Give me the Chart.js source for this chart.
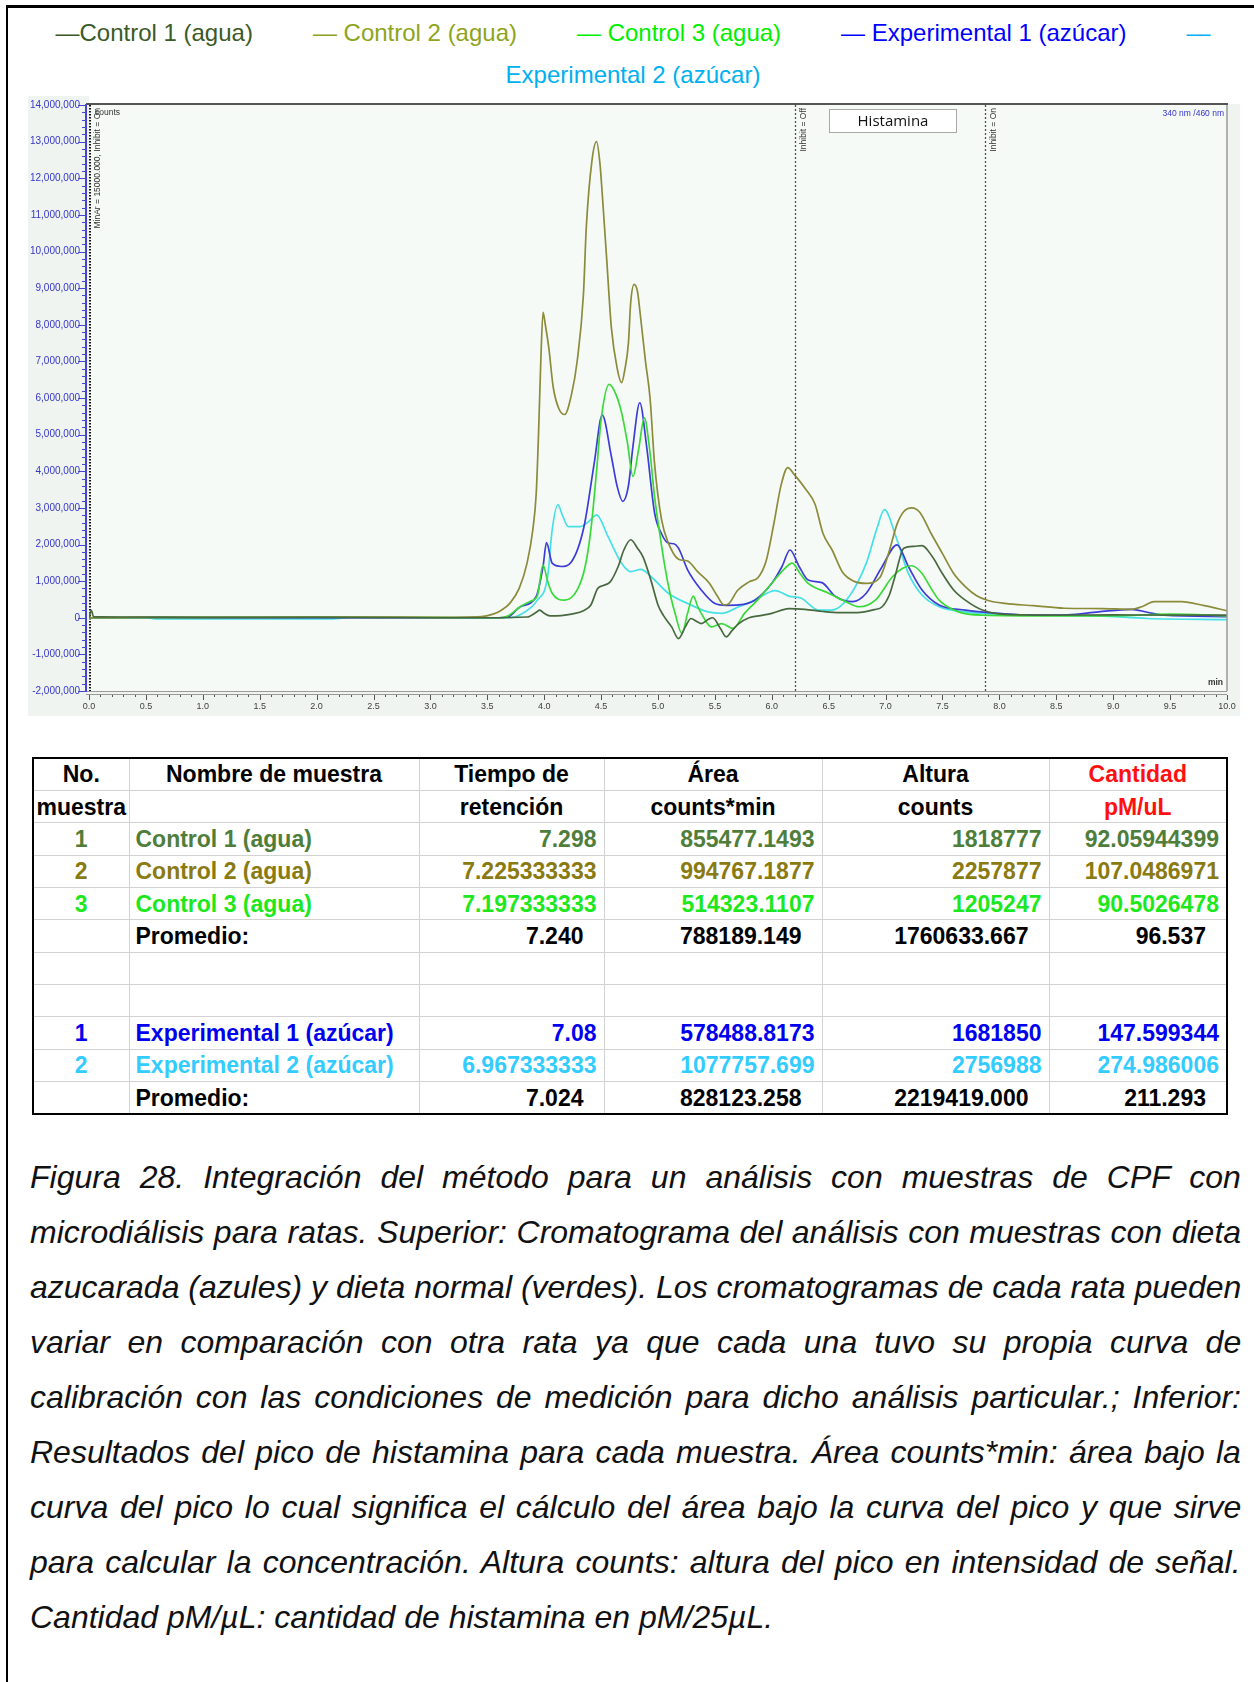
<!DOCTYPE html>
<html lang="es">
<head>
<meta charset="utf-8">
<title>Figura 28 - Cromatograma de histamina</title>
<script src="https://cdn.jsdelivr.net/npm/chart.js@4.4.1/dist/chart.umd.min.js"></script>
<style>
  html, body { margin: 0; padding: 0; background: #fff; }
  body { position: relative; width: 1254px; height: 1682px; overflow: hidden;
         font-family: "Liberation Sans", Arial, sans-serif; color: #000; }
  #marco { position: absolute; left: 6px; top: 5px; width: 1300px; height: 1700px;
           border-top: 3px solid #000; border-left: 2px solid #000; }
  .leyenda { position: absolute; left: 0; width: 1266px; height: 28px; text-align: center; white-space: nowrap;
             font-size: 24px; line-height: 28px; }
  .leyenda span + span { margin-left: 60px; }
  #grafico { position: absolute; left: 28px; top: 96px; }
  #tabla { position: absolute; left: 32px; top: 757px; width: 1194px;
           border-collapse: collapse; table-layout: fixed;
           border: 2px solid #000; font-weight: bold; font-size: 23px; }
  #tabla tr { height: 32.36px; }
  #tabla td { height: 32.36px; padding: 0 7px; border: 1.5px solid #d2d2d2; white-space: nowrap; overflow: hidden;
              line-height: 26px; box-sizing: border-box; }
  #tabla td.c { text-align: center; }
  #tabla td.n { text-align: right; }
  #tabla td.nombre { padding-left: 6px; }
  #tabla tr.prom td.n { padding-right: 20px; }
  #pie { position: absolute; left: 30px; top: 1149.5px; width: 1211px;
         font-style: italic; font-size: 32px; line-height: 55.1px; color: #111; }
  #pie div { white-space: nowrap; }
</style>
</head>
<body>
<div id="marco"></div>
<div class="leyenda" id="leyenda1" style="top:19px"></div>
<div class="leyenda" id="leyenda2" style="top:61px"></div>
<canvas id="grafico" width="1212" height="620"></canvas>
<table id="tabla"></table>
<div id="pie"></div>

<script>
// series del cromatograma: [tiempo (min), señal (millones de counts)]
const seriesNames = ["Control 1 (agua)", "Control 2 (agua)", "Control 3 (agua)", "Experimental 1 (azúcar)", "Experimental 2 (azúcar)"];
const lineColors = ["#48693f", "#8b8b3a", "#3ad93a", "#3d3dd6", "#46e0e6"];
const legendColors = ["#3b5a28", "#8ea41c", "#00ee00", "#0000ff", "#00b0f0"];

const control1 = [[0,0],[0.02,0.2],[0.04,0.03],[0.3,0.02],[1.0,0.01],[2.0,0.01],[3.0,0],[3.5,0],[3.85,0.02],[3.93,0.15],[3.96,0.21],[4.0,0.12],[4.05,0.05],[4.15,0.06],[4.24,0.1],[4.35,0.2],[4.41,0.35],[4.47,0.8],[4.52,0.88],[4.58,0.98],[4.65,1.4],[4.7,1.85],[4.76,2.13],[4.82,1.9],[4.87,1.65],[4.94,1.0],[5.0,0.35],[5.05,0.05],[5.12,-0.25],[5.18,-0.57],[5.24,-0.25],[5.29,-0.02],[5.34,-0.1],[5.38,-0.16],[5.44,-0.05],[5.48,0],[5.55,-0.3],[5.6,-0.52],[5.65,-0.35],[5.71,-0.16],[5.8,0],[5.9,0.06],[6.0,0.12],[6.15,0.25],[6.29,0.23],[6.45,0.17],[6.6,0.14],[6.75,0.14],[6.9,0.22],[6.97,0.3],[7.03,0.6],[7.08,1.1],[7.16,1.9],[7.25,1.95],[7.32,1.97],[7.41,1.67],[7.5,1.2],[7.6,0.75],[7.7,0.48],[7.85,0.21],[8.05,0.09],[8.5,0.07],[9.0,0.08],[9.5,0.07],[10.0,0.07]];

const control2 = [[0,0],[0.5,0.01],[1.5,0.01],[2.5,0.02],[3.0,0.01],[3.45,0.03],[3.55,0.1],[3.62,0.2],[3.7,0.4],[3.78,0.8],[3.85,1.5],[3.9,2.4],[3.93,3.4],[3.95,5.0],[3.97,7.0],[3.99,8.34],[4.01,8.0],[4.04,7.38],[4.08,6.28],[4.13,5.7],[4.18,5.55],[4.24,6.1],[4.29,7.01],[4.345,8.84],[4.37,10.67],[4.42,12.49],[4.46,13.0],[4.49,12.4],[4.51,11.58],[4.55,9.75],[4.59,7.93],[4.64,6.83],[4.68,6.42],[4.71,6.8],[4.74,7.5],[4.76,8.6],[4.79,9.1],[4.82,8.9],[4.84,8.4],[4.89,7.0],[4.93,6.0],[4.97,4.2],[5.03,2.7],[5.09,2.05],[5.18,1.6],[5.26,1.55],[5.35,1.25],[5.45,0.95],[5.52,0.6],[5.58,0.35],[5.62,0.38],[5.7,0.75],[5.8,0.98],[5.88,1.1],[5.95,1.55],[6.02,2.6],[6.08,3.6],[6.14,4.1],[6.2,3.9],[6.3,3.5],[6.38,3.1],[6.45,2.3],[6.53,1.85],[6.62,1.25],[6.72,1.0],[6.83,0.94],[6.95,1.1],[7.03,1.8],[7.1,2.55],[7.16,2.9],[7.23,3.0],[7.3,2.88],[7.4,2.3],[7.5,1.75],[7.6,1.2],[7.7,0.85],[7.8,0.6],[7.9,0.47],[8.05,0.39],[8.3,0.33],[8.57,0.26],[8.9,0.25],[9.16,0.23],[9.25,0.3],[9.36,0.44],[9.6,0.44],[9.8,0.33],[10.0,0.19]];

const control3 = [[0,0],[1.0,0.01],[2.2,0.02],[3.0,0.01],[3.6,0],[3.68,0.05],[3.79,0.3],[3.88,0.45],[3.94,0.6],[3.99,1.44],[4.03,1.0],[4.07,0.67],[4.18,0.48],[4.29,0.76],[4.36,1.4],[4.41,2.4],[4.46,4.0],[4.5,5.4],[4.57,6.37],[4.63,6.1],[4.68,5.6],[4.73,4.8],[4.78,3.86],[4.83,4.6],[4.88,5.46],[4.93,4.5],[4.97,3.3],[5.02,2.2],[5.06,1.4],[5.11,0.6],[5.15,0.12],[5.21,-0.43],[5.26,0.12],[5.31,0.59],[5.35,0.3],[5.38,0.12],[5.47,-0.25],[5.56,-0.16],[5.66,-0.29],[5.76,0.12],[5.88,0.5],[6.0,0.94],[6.1,1.3],[6.18,1.49],[6.25,1.2],[6.32,0.94],[6.5,0.67],[6.65,0.44],[6.77,0.3],[6.91,0.48],[7.06,1.12],[7.15,1.35],[7.23,1.42],[7.32,1.21],[7.4,0.8],[7.47,0.48],[7.64,0.16],[7.85,0.07],[8.5,0.05],[9.0,0.05],[9.5,0.1],[10.0,0.05]];

const experimental1 = [[0,0],[1.0,0],[2.0,0],[3.0,0],[3.6,0],[3.68,0.02],[3.79,0.3],[3.93,0.58],[3.99,1.4],[4.02,2.05],[4.07,1.49],[4.15,1.4],[4.24,1.53],[4.35,2.49],[4.44,4.23],[4.51,5.53],[4.59,4.41],[4.64,3.6],[4.69,3.18],[4.74,3.6],[4.78,4.68],[4.84,5.87],[4.9,4.68],[4.97,2.86],[5.03,2.3],[5.09,2.04],[5.14,2.02],[5.18,1.9],[5.26,1.31],[5.38,0.76],[5.5,0.39],[5.6,0.34],[5.71,0.35],[5.85,0.48],[6.0,0.94],[6.09,1.4],[6.16,1.85],[6.24,1.4],[6.32,1.03],[6.44,0.96],[6.56,0.58],[6.71,0.44],[6.83,0.67],[6.97,1.4],[7.1,1.99],[7.2,1.4],[7.32,0.76],[7.47,0.35],[7.7,0.21],[8.0,0.12],[8.28,0.07],[8.6,0.08],[8.87,0.16],[9.16,0.23],[9.3,0.15],[9.45,0.07],[10.0,0.03]];

const experimental2 = [[0,0],[0.5,0],[0.6,-0.03],[2.1,-0.03],[2.3,0],[3.7,0],[3.8,0.1],[3.94,0.48],[4.03,1.12],[4.07,2.4],[4.12,3.09],[4.16,2.8],[4.21,2.49],[4.32,2.49],[4.4,2.65],[4.46,2.81],[4.56,2.22],[4.68,1.49],[4.76,1.26],[4.85,1.32],[4.94,1.12],[5.09,0.67],[5.26,0.39],[5.44,0.16],[5.56,0.12],[5.71,0.3],[5.85,0.48],[6.03,0.74],[6.15,0.59],[6.26,0.53],[6.41,0.21],[6.53,0.21],[6.68,0.58],[6.83,1.49],[6.92,2.4],[6.99,2.95],[7.09,2.22],[7.2,1.21],[7.32,0.62],[7.47,0.3],[7.7,0.16],[8.2,0.08],[8.87,0.05],[9.3,-0.02],[10.0,-0.05]];

const series = [control1, control2, control3, experimental1, experimental2];

// eventos del integrador y rotulos
const eventTimes = [0.0, 6.2, 7.87];
const eventLabels = ["MinAr = 15000.000, Inhibit = On", "Inhibit = Off", "Inhibit = On"];
const peakLabel = "Histamina";
const peakLabelRange = [6.5, 7.62];

// ejes
const xMin = 0, xMax = 10, xStep = 0.5, xMinorStep = 0.1;
const yMin = -2, yMax = 14, yStep = 1, yMinorStep = 0.2;

// tabla de resultados
const tablaEncabezado1 = ["No.", "Nombre de muestra", "Tiempo de", "Área", "Altura", "Cantidad"];
const tablaEncabezado2 = ["muestra", "", "retención", "counts*min", "counts", "pM/uL"];
const muestrasNumero = ["1", "2", "3", "1", "2"];
const muestrasTiempo = ["7.298", "7.225333333", "7.197333333", "7.08", "6.967333333"];
const muestrasArea = ["855477.1493", "994767.1877", "514323.1107", "578488.8173", "1077757.699"];
const muestrasAltura = ["1818777", "2257877", "1205247", "1681850", "2756988"];
const muestrasCantidad = ["92.05944399", "107.0486971", "90.5026478", "147.599344", "274.986006"];
const promedioControl = ["7.240", "788189.149", "1760633.667", "96.537"];
const promedioExperimental = ["7.024", "828123.258", "2219419.000", "211.293"];
const tablaColores = ["#4f7d3a", "#8a7a12", "#1de81d", "#0000ee", "#33ccff"];
const tablaAnchos = [96, 290, 185, 218, 227, 178];

const pieLineas = [
  "Figura 28. Integración del método para un análisis con muestras de CPF con",
  "microdiálisis para ratas. Superior: Cromatograma del análisis con muestras con dieta",
  "azucarada (azules) y dieta normal (verdes). Los cromatogramas de cada rata pueden",
  "variar en comparación con otra rata ya que cada una tuvo su propia curva de",
  "calibración con las condiciones de medición para dicho análisis particular.; Inferior:",
  "Resultados del pico de histamina para cada muestra. Área counts*min: área bajo la",
  "curva del pico lo cual significa el cálculo del área bajo la curva del pico y que sirve",
  "para calcular la concentración. Altura counts: altura del pico en intensidad de señal.",
  "Cantidad pM/µL: cantidad de histamina en pM/25µL."
];

// leyenda
const leyenda1 = document.getElementById("leyenda1");
const leyenda2 = document.getElementById("leyenda2");
seriesNames.forEach((name, i) => {
  const span = document.createElement("span");
  span.style.color = legendColors[i];
  if (i < seriesNames.length - 1) {
    span.textContent = (i === 0 ? "—" : "— ") + name;
    leyenda1.appendChild(span);
  } else {
    span.textContent = "—";
    leyenda1.appendChild(span);
    const resto = document.createElement("span");
    resto.style.color = legendColors[i];
    resto.textContent = name;
    leyenda2.appendChild(resto);
  }
});

// grafico
const fmtCounts = (v) => Math.round(v * 1000000).toLocaleString("en-US");

const marcoCromatograma = {
  id: "marcoCromatograma",
  beforeDraw(chart) {
    const { ctx, chartArea: a } = chart;
    ctx.save();
    ctx.fillStyle = "#eff4f1";
    ctx.fillRect(0, 0, chart.width, chart.height);
    ctx.fillStyle = "#fff";
    ctx.fillRect(a.left, 0, chart.width - a.left, a.top - 1);
    ctx.fillStyle = "#f6faf7";
    ctx.fillRect(a.left, a.top, a.right - a.left, a.bottom - a.top);
    ctx.restore();
  },
  beforeDatasetsDraw(chart) {
    const { ctx, chartArea: a } = chart;
    const xs = chart.scales.x;
    ctx.save();
    eventTimes.forEach((t, i) => {
      const x = Math.round(xs.getPixelForValue(t)) + (i === 0 ? 1 : 0.5);
      ctx.beginPath();
      ctx.strokeStyle = i === 0 ? "#111" : "#505050";
      ctx.lineWidth = i === 0 ? 2 : 1.3;
      ctx.setLineDash(i === 0 ? [1.5, 1.5] : [2, 2]);
      ctx.moveTo(x, a.top);
      ctx.lineTo(x, a.bottom);
      ctx.stroke();
      ctx.setLineDash([]);
      ctx.save();
      ctx.translate(x + 8, a.top + 3);
      ctx.rotate(-Math.PI / 2);
      ctx.font = "8.5px 'Liberation Sans', Arial, sans-serif";
      ctx.fillStyle = "#333";
      ctx.textAlign = "right";
      ctx.textBaseline = "middle";
      ctx.fillText(eventLabels[i], 0, 0);
      ctx.restore();
    });
    ctx.restore();
  },
  afterDatasetsDraw(chart) {
    const { ctx, chartArea: a } = chart;
    const xs = chart.scales.x;
    const ys = chart.scales.y;
    ctx.save();
    // bordes del area
    ctx.strokeStyle = "#555";
    ctx.lineWidth = 2;
    ctx.beginPath(); ctx.moveTo(a.left - 3, a.top - 1); ctx.lineTo(a.right + 1, a.top - 1); ctx.stroke();
    ctx.strokeStyle = "#999";
    ctx.lineWidth = 1.5;
    ctx.beginPath(); ctx.moveTo(a.right, a.top); ctx.lineTo(a.right, a.bottom); ctx.stroke();
    ctx.lineWidth = 1;
    ctx.strokeStyle = "#9a9a9a";
    ctx.beginPath(); ctx.moveTo(a.left - 3, a.bottom + 0.5); ctx.lineTo(a.right, a.bottom + 0.5); ctx.stroke();
    ctx.beginPath(); ctx.moveTo(a.left - 3, a.bottom + 3.5); ctx.lineTo(a.right, a.bottom + 3.5); ctx.stroke();
    // eje y azul
    ctx.strokeStyle = "#4646d0";
    ctx.lineWidth = 2;
    ctx.beginPath(); ctx.moveTo(a.left - 3, a.top - 1); ctx.lineTo(a.left - 3, a.bottom + 1); ctx.stroke();
    ctx.lineWidth = 1;
    for (let v = yMin; v <= yMax + 1e-9; v += yMinorStep) {
      const y = Math.round(ys.getPixelForValue(v)) + 0.5;
      const major = Math.abs(v - Math.round(v)) < 1e-6;
      ctx.beginPath();
      ctx.moveTo(a.left - (major ? 11 : 7), y);
      ctx.lineTo(a.left - 3, y);
      ctx.stroke();
    }
    // marcas del eje x
    ctx.strokeStyle = "#555";
    for (let v = xMin; v <= xMax + 1e-9; v += xMinorStep) {
      const x = Math.round(xs.getPixelForValue(v)) + 0.5;
      const major = Math.abs(v / xStep - Math.round(v / xStep)) < 1e-6;
      ctx.beginPath();
      ctx.moveTo(x, a.bottom + 4);
      ctx.lineTo(x, a.bottom + (major ? 9 : 6));
      ctx.stroke();
    }
    // rotulos
    ctx.font = "8.5px 'Liberation Sans', Arial, sans-serif";
    ctx.textBaseline = "middle";
    ctx.fillStyle = "#333";
    ctx.textAlign = "left";
    ctx.fillText("counts", a.left + 6, a.top + 8);
    ctx.textAlign = "right";
    ctx.font = "bold 8.5px 'Liberation Sans', Arial, sans-serif";
    ctx.fillText("min", a.right - 4, a.bottom - 8);
    ctx.font = "8.5px 'Liberation Sans', Arial, sans-serif";
    ctx.fillStyle = "#3333cc";
    ctx.fillText("340 nm /460 nm", a.right - 3, a.top + 9);
    // recuadro del pico
    const bx0 = Math.round(xs.getPixelForValue(peakLabelRange[0])) + 0.5;
    const bx1 = Math.round(xs.getPixelForValue(peakLabelRange[1])) + 0.5;
    const by0 = a.top + 4.5, by1 = a.top + 27.5;
    ctx.fillStyle = "#fff";
    ctx.fillRect(bx0, by0, bx1 - bx0, by1 - by0);
    ctx.strokeStyle = "#a8a8a8";
    ctx.strokeRect(bx0, by0, bx1 - bx0, by1 - by0);
    ctx.fillStyle = "#111";
    ctx.font = "15px 'Open Sans', sans-serif";
    ctx.textAlign = "center";
    ctx.fillText(peakLabel, (bx0 + bx1) / 2, (by0 + by1) / 2 + 1);
    ctx.restore();
  }
};

new Chart(document.getElementById("grafico"), {
  type: "line",
  data: {
    datasets: series.map((pts, i) => ({
      label: seriesNames[i],
      data: pts.map(([t, c]) => ({ x: t, y: c })),
      borderColor: lineColors[i],
      borderWidth: 1.7,
      pointRadius: 0,
      fill: false,
      cubicInterpolationMode: "monotone",
    })),
  },
  options: {
    responsive: false,
    animation: false,
    devicePixelRatio: 1,
    layout: { padding: { top: 9, right: 13, left: 0, bottom: 0 } },
    plugins: { legend: { display: false }, tooltip: { enabled: false } },
    scales: {
      x: {
        type: "linear",
        min: xMin,
        max: xMax,
        afterFit: (s) => { s.height = 25; s.paddingLeft = 0; s.paddingRight = 0; },
        grid: { display: false, drawTicks: false },
        border: { display: false },
        ticks: {
          stepSize: xStep,
          maxRotation: 0,
          autoSkip: false,
          padding: 10,
          color: "#404040",
          font: { family: "'Liberation Sans', Arial, sans-serif", size: 9 },
          callback: (v) => Number(v).toFixed(1),
        },
      },
      y: {
        type: "linear",
        min: yMin,
        max: yMax,
        afterFit: (s) => { s.width = 61; s.paddingTop = 0; s.paddingBottom = 0; },
        grid: { display: false, drawTicks: false },
        border: { display: false },
        ticks: {
          stepSize: yStep,
          padding: 9,
          color: "#3636c8",
          font: { family: "'Liberation Sans', Arial, sans-serif", size: 10 },
          callback: (v) => fmtCounts(v),
        },
      },
    },
  },
  plugins: [marcoCromatograma],
});

// tabla
const tabla = document.getElementById("tabla");
const colgroup = document.createElement("colgroup");
tablaAnchos.forEach((w) => {
  const col = document.createElement("col");
  col.style.width = w + "px";
  colgroup.appendChild(col);
});
tabla.appendChild(colgroup);

function agregarFila(celdas, clases, color, claseFila) {
  const tr = document.createElement("tr");
  if (claseFila) tr.className = claseFila;
  celdas.forEach((txt, j) => {
    const td = document.createElement("td");
    td.textContent = txt;
    td.className = clases[j];
    if (color) td.style.color = color;
    tr.appendChild(td);
  });
  tabla.appendChild(tr);
  return tr;
}

const h1 = agregarFila(tablaEncabezado1, ["c", "c", "c", "c", "c", "c"]);
const h2 = agregarFila(tablaEncabezado2, ["c", "c", "c", "c", "c", "c"]);
h1.lastChild.style.color = "#ff1010";
h2.lastChild.style.color = "#ff1010";
h2.firstChild.style.padding = "0";

const clasesDatos = ["c", "nombre", "n", "n", "n", "n"];
function filaMuestra(i) {
  agregarFila([muestrasNumero[i], seriesNames[i], muestrasTiempo[i], muestrasArea[i], muestrasAltura[i], muestrasCantidad[i]],
    clasesDatos, tablaColores[i]);
}
[0, 1, 2].forEach(filaMuestra);
agregarFila(["", "Promedio:"].concat(promedioControl), clasesDatos, "#000", "prom");
agregarFila(["", "", "", "", "", ""], clasesDatos);
agregarFila(["", "", "", "", "", ""], clasesDatos);
[3, 4].forEach(filaMuestra);
agregarFila(["", "Promedio:"].concat(promedioExperimental), clasesDatos, "#000", "prom");

// pie de figura, justificado linea a linea
const pie = document.getElementById("pie");
pieLineas.forEach((linea, i) => {
  const div = document.createElement("div");
  const span = document.createElement("span");
  span.textContent = linea;
  div.appendChild(span);
  pie.appendChild(div);
  if (i < pieLineas.length - 1) {
    const espacios = linea.split(" ").length - 1;
    const sobra = 1211 - span.offsetWidth;
    span.style.wordSpacing = (sobra / espacios) + "px";
  }
});
</script>
</body>
</html>
